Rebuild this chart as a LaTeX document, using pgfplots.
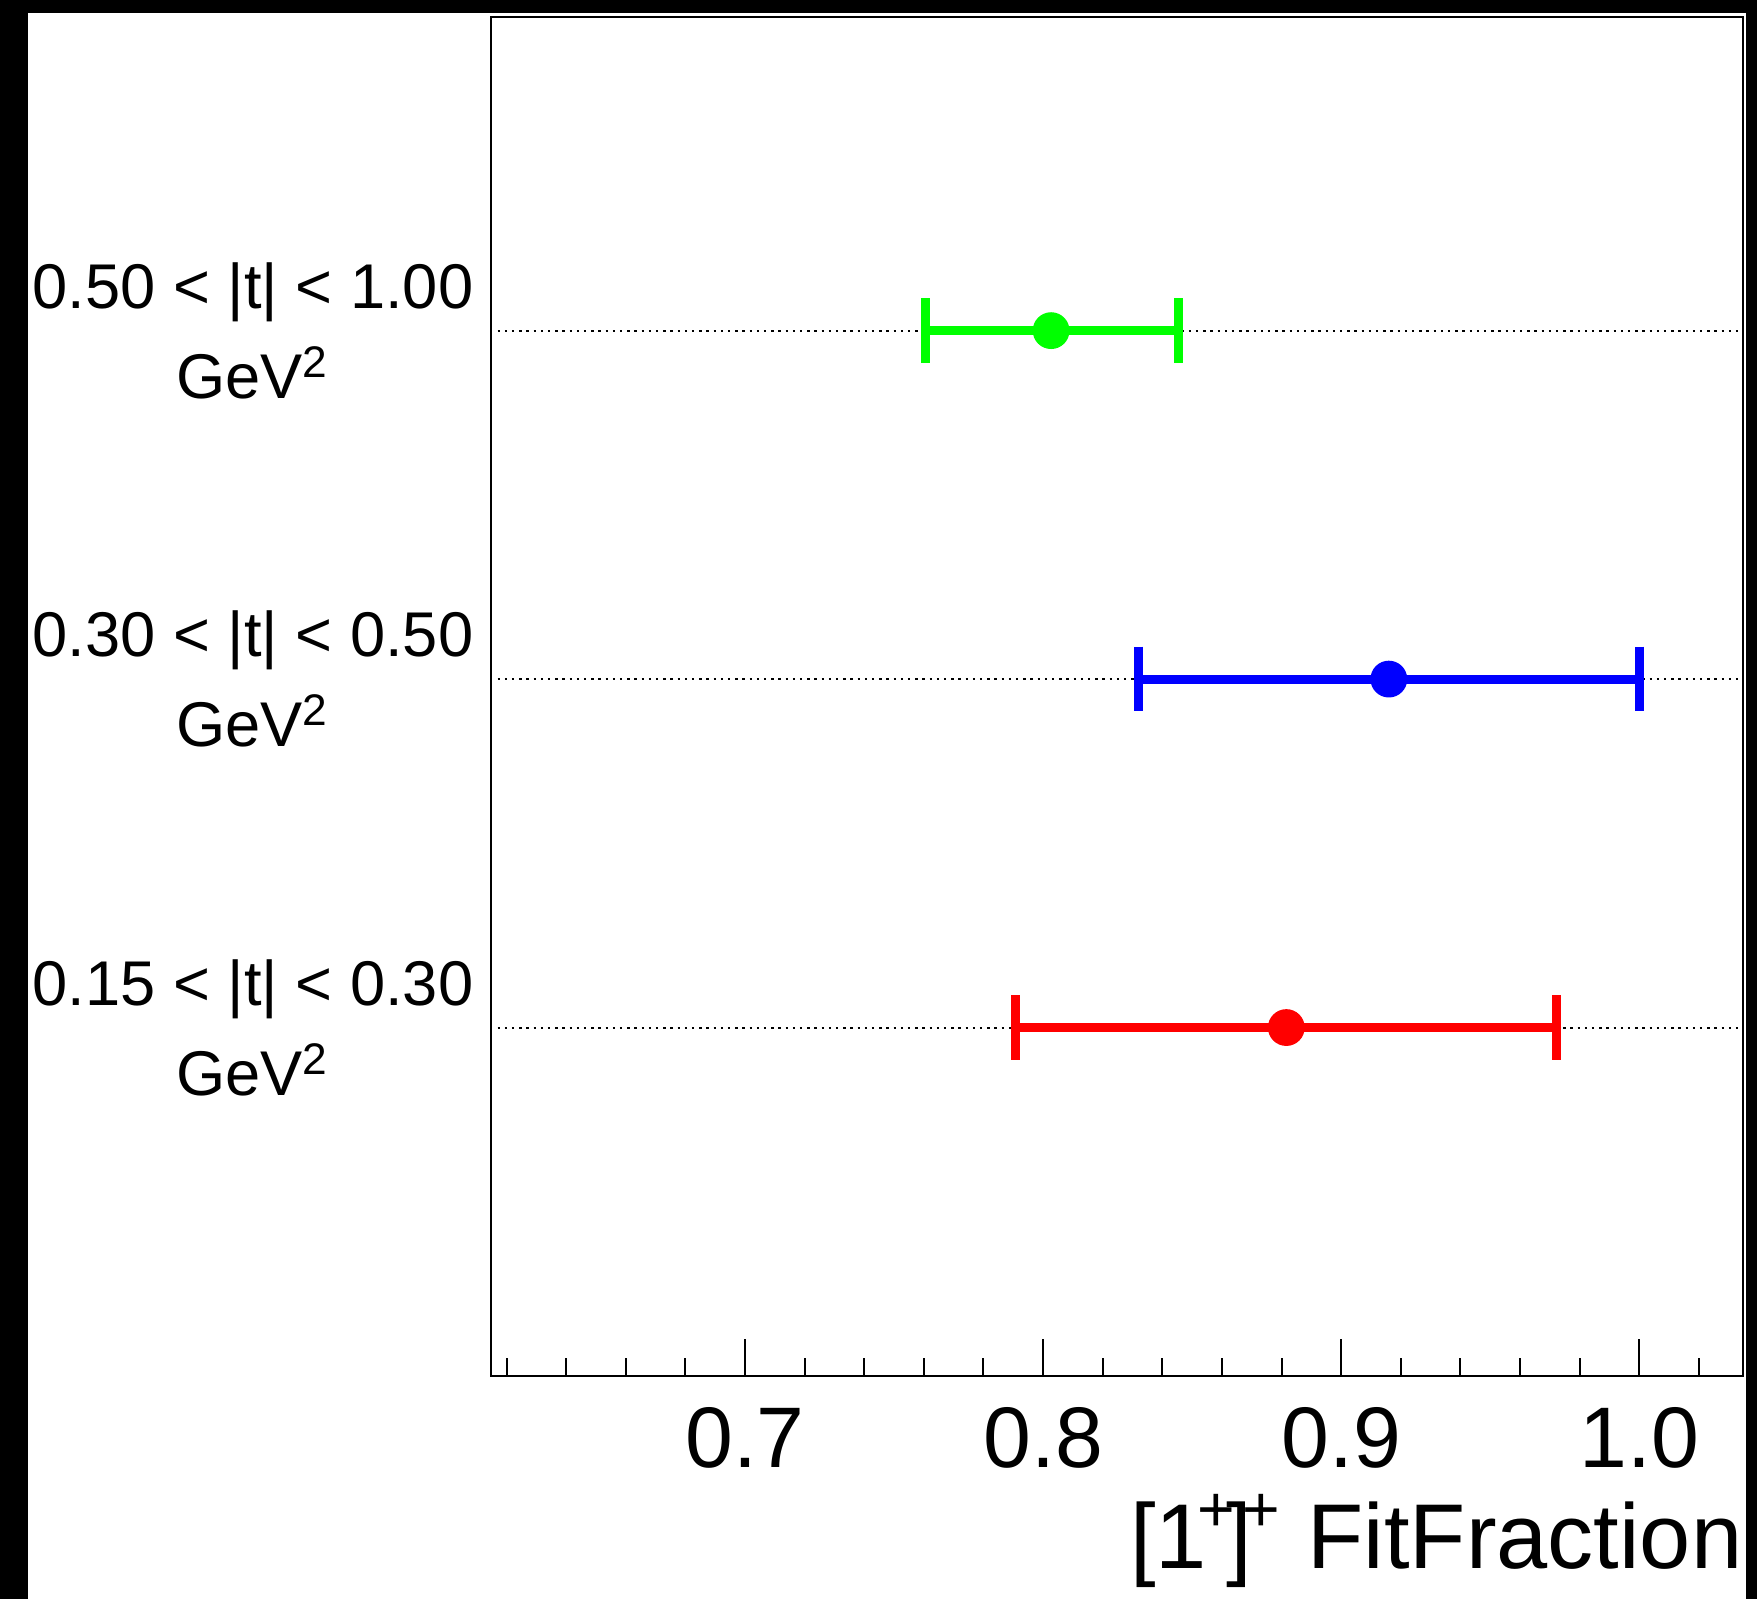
\documentclass[border=0pt]{standalone}
\usepackage{pgfplots}
\pgfplotsset{compat=1.18}
\usepackage{fontspec}
\setmainfont{Liberation Sans}
\begin{document}
\begin{tikzpicture}
\begin{axis}[
  at={(122.75pt,55.75pt)}, anchor=south west,
  scale only axis, width=313pt, height=339.75pt,
  xmin=0.6148, xmax=1.0348, ymin=0, ymax=3.9,
  axis line style={line width=0.6pt},
  xtick={0.7,0.8,0.9,1.0},
  xticklabels={0.7,0.8,0.9,1.0},
  minor xtick={0.62,0.64,0.66,0.68,0.72,0.74,0.76,0.78,0.82,0.84,0.86,0.88,0.92,0.94,0.96,0.98,1.02},
  xtick pos=bottom, tick align=inside,
  major tick length=9.25pt, minor tick length=4.5pt,
  x tick style={line width=0.5pt, black},
  ytick={1,2,3},
  ytick style={draw=none},
  yticklabels={{0.15 < |t| < 0.30\\GeV\textsuperscript{2}},{0.30 < |t| < 0.50\\GeV\textsuperscript{2}},{0.50 < |t| < 1.00\\GeV\textsuperscript{2}}},
  yticklabel style={align=center, inner sep=0pt, xshift=-4.25pt, font=\fontsize{15.8}{22.5}\selectfont},
  xticklabel style={inner sep=0pt, yshift=-7.75pt, font=\fontsize{21.5}{25}\selectfont},
  /pgf/number format/assume math mode=true,
  xlabel={[1\kern-0.1em\textsuperscript{+}\kern-0.12em]\kern-0.1em\textsuperscript{+} FitFraction},
  xlabel style={at={(axis description cs:1,0)}, anchor=base east, yshift=-48pt, inner sep=0pt, font=\fontsize{23}{27}\selectfont},
]
% dotted guide lines
\addplot[black, line width=0.5pt, dash pattern=on 0.6pt off 1.2pt] coordinates {(0.617,1) (1.0348,1)};
\addplot[black, line width=0.5pt, dash pattern=on 0.6pt off 1.2pt] coordinates {(0.617,2) (1.0348,2)};
\addplot[black, line width=0.5pt, dash pattern=on 0.6pt off 1.2pt] coordinates {(0.617,3) (1.0348,3)};
% red: 0.15<|t|<0.30
\addplot[red, line width=2.25pt, mark=|, mark size=8.1pt] coordinates {(0.7908,1) (0.9722,1)};
\addplot[red, only marks, mark=*, mark size=4.4pt] coordinates {(0.8816,1)};
% blue: 0.30<|t|<0.50
\addplot[blue, line width=2.25pt, mark=|, mark size=8.1pt] coordinates {(0.832,2) (1.000,2)};
\addplot[blue, only marks, mark=*, mark size=4.4pt] coordinates {(0.916,2)};
% green: 0.50<|t|<1.00
\addplot[green, line width=2.25pt, mark=|, mark size=8.1pt] coordinates {(0.7604,3) (0.8453,3)};
\addplot[green, only marks, mark=*, mark size=4.4pt] coordinates {(0.8027,3)};
\end{axis}
% black frame of the canvas
\fill[black] (0,0) rectangle (6.9pt,399.75pt);
\fill[black] (0,396.5pt) rectangle (439.25pt,399.75pt);
\fill[black] (436.6pt,0) rectangle (439.25pt,399.75pt);
\pgfresetboundingbox
\useasboundingbox (0,0) rectangle (439.25pt,399.75pt);
\end{tikzpicture}
\end{document}
